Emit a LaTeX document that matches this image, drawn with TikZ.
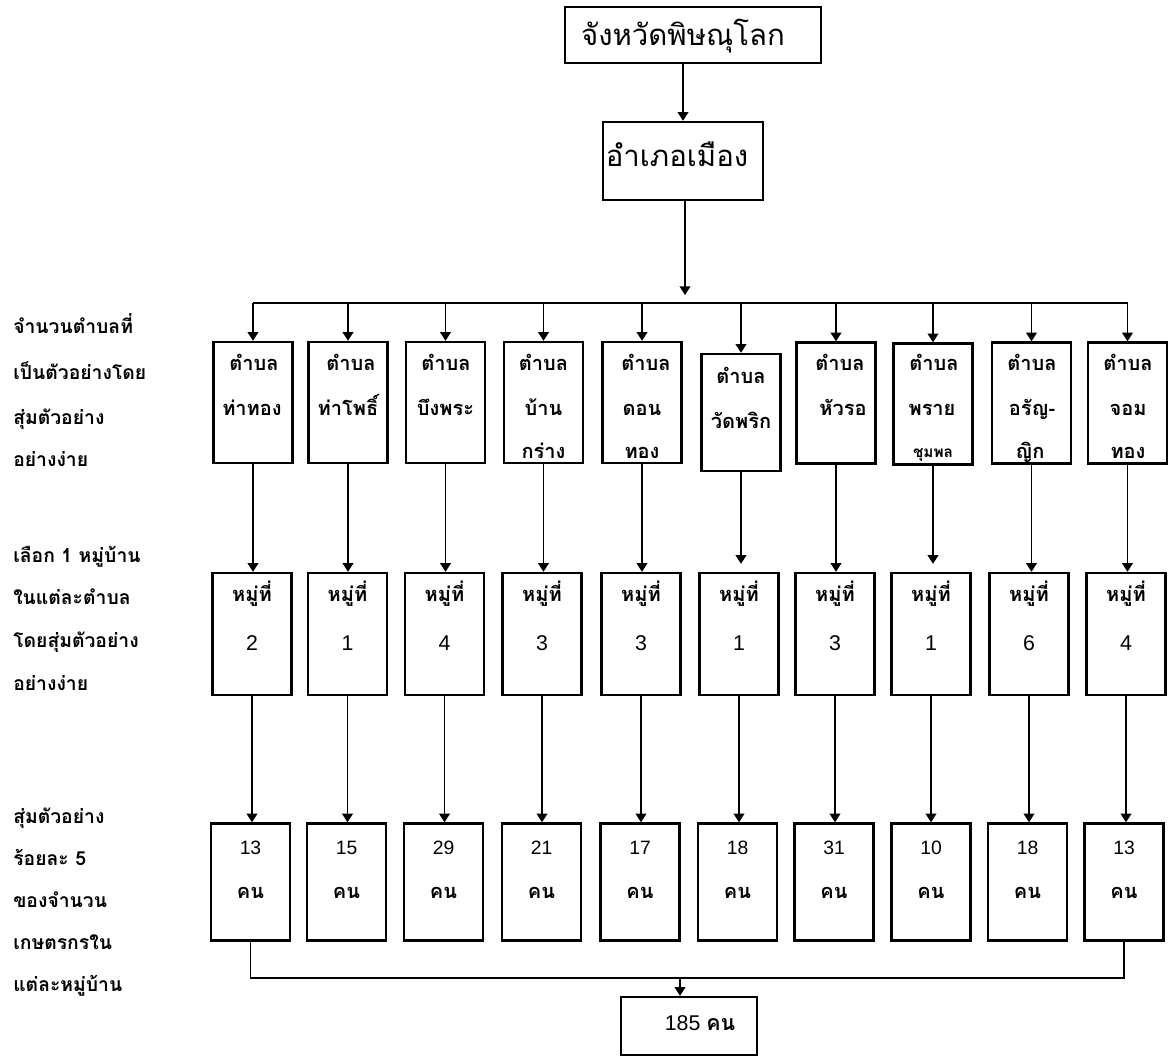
\documentclass[tikz,border=0pt]{standalone}
\usepackage{fontspec}
\setmainfont{Liberation Sans}
\newfontfamily\thai[Script=Thai]{Loma}
\usetikzlibrary{arrows.meta}
\begin{document}
\begin{tikzpicture}[x=0.75pt,y=-0.75pt,
  box/.style={draw, line width=1.8pt, inner sep=0pt, minimum width=59.25pt},
  conn/.style={line width=1.2pt},
  arr/.style={line width=1.2pt, -{Triangle[width=8pt,length=6.5pt]}},
  lbl/.style={font=\thai\bfseries\fontsize{14.5}{16}\selectfont, anchor=mid west, inner sep=0pt},
  thtxt/.style={font=\thai\bfseries\fontsize{15}{17}\selectfont, anchor=mid, inner sep=0pt},
  thsmall/.style={font=\thai\bfseries\fontsize{11.5}{13}\selectfont, anchor=mid, inner sep=0pt},
  numtxt/.style={font=\fontsize{16}{18}\selectfont, anchor=center, inner sep=0pt},
  numsm/.style={font=\fontsize{14.5}{17}\selectfont, anchor=center, inner sep=0pt},
  bigtxt/.style={font=\thai\fontsize{22}{26}\selectfont, anchor=mid, inner sep=0pt},
]
\useasboundingbox (0,0) rectangle (1174,1057);

% top boxes
\node[box, minimum width=192pt, minimum height=42pt] (prov) at (693,35) {};
\node[bigtxt] (provt) at (683,42) {จังหวัดพิษณุโลก};
\node[box, minimum width=120pt, minimum height=58.5pt] (amphoe) at (683,161) {};
\node[bigtxt] (amphoet) at (677,163) {อำเภอเมือง};
\draw[arr] (amphoe.north |- prov.south) -- (amphoe.north);

% row 1 boxes
\foreach \i/\cx/\cy/\h in {1/253/402.5/90.75, 2/348/402.5/90.75, 3/445.5/402.5/90.75,
  4/543.5/402.5/90.75, 5/642/402.5/90.75, 6/741/412.5/87.75, 7/836/403/90.75,
  8/933/404/90.75, 9/1031.5/403/90.75, 10/1127.5/403/90.75} {
  \node[box, minimum height=\h pt] (t\i) at (\cx,\cy) {};
}
% row 1 texts
\node[thtxt] (t1a) at (254,367) {ตำบล};
\node[thtxt] (t1b) at (252,412) {ท่าทอง};
\node[thtxt] (t2a) at (351,367) {ตำบล};
\node[thtxt] (t2b) at (348,412) {ท่าโพธิ์};
\node[thtxt] (t3a) at (446,367) {ตำบล};
\node[thtxt] (t3b) at (445.5,412) {บึงพระ};
\node[thtxt] (t4a) at (543.5,367) {ตำบล};
\node[thtxt] (t4b) at (543.5,412) {บ้าน};
\node[thtxt] (t4c) at (543.5,455) {กร่าง};
\node[thtxt] (t5a) at (646,367) {ตำบล};
\node[thtxt] (t5b) at (642,412) {ดอน};
\node[thtxt] (t5c) at (642,455) {ทอง};
\node[thtxt] (t6a) at (741,380) {ตำบล};
\node[thtxt] (t6b) at (741,425) {วัดพริก};
\node[thtxt] (t7a) at (840,367) {ตำบล};
\node[thtxt] (t7b) at (843,412) {หัวรอ};
\node[thtxt] (t8a) at (934,367) {ตำบล};
\node[thtxt] (t8b) at (932,412) {พราย};
\node[thsmall] (t8c) at (933,454) {ชุมพล};
\node[thtxt] (t9a) at (1032,367) {ตำบล};
\node[thtxt] (t9b) at (1032,412) {อรัญ-};
\node[thtxt] (t9c) at (1030,455) {ญิก};
\node[thtxt] (t10a) at (1128,367) {ตำบล};
\node[thtxt] (t10b) at (1128,412) {จอม};
\node[thtxt] (t10c) at (1128,455) {ทอง};

% row 2
\foreach \i/\cx/\n in {1/252/2, 2/347.5/1, 3/444.5/4, 4/542/3, 5/641/3,
  6/739/1, 7/835/3, 8/931/1, 9/1029/6, 10/1126/4} {
  \node[box, minimum height=91.5pt] (h\i) at (\cx,634) {};
  \node[thtxt] (hl\i) at (\cx,598) {หมู่ที่};
  \node[numtxt] (hn\i) at (\cx,643) {\n};
}

% row 3
\foreach \i/\cx/\n in {1/250.5/13, 2/346.5/15, 3/443.5/29, 4/541.5/21, 5/640/17,
  6/737.5/18, 7/834/31, 8/931/10, 9/1027.5/18, 10/1124/13} {
  \node[box, minimum height=87.75pt] (p\i) at (\cx,882) {};
  \node[numsm] (pn\i) at (\cx,848) {\n};
  \node[thtxt] (pk\i) at (\cx,895) {คน};
}

% total
\node[box, minimum width=102pt, minimum height=43.5pt] (total) at (689,1026) {};
\node[numtxt] (totalt) at (700,1023) {185 {\thai\bfseries คน}};

% top bus
\coordinate (busM) at (685,303);
\draw[conn] (t1.north |- busM) -- (t10.north |- busM);
\draw[arr, shorten >=6pt] (amphoe.south -| busM) -- (busM);
\foreach \i in {1,...,10} {
  \draw[arr] (t\i.north |- busM) -- (t\i.north);
}
% row1 -> row2
\foreach \i in {1,2,3,4,5,7,9,10} {
  \draw[arr] (t\i.south) -- (t\i.south |- h\i.north);
}
\foreach \i in {6,8} {
  \draw[arr, shorten >=6pt] (t\i.south) -- (t\i.south |- h\i.north);
}
% row2 -> row3
\foreach \i in {1,...,10} {
  \draw[arr] (h\i.south) -- (h\i.south |- p\i.north);
}
% bottom bus
\coordinate (busB) at (680,978);
\draw[conn] (p1.south) |- (busB) -| (p10.south);
\draw[arr] (busB) -- (busB |- total.north);

% left labels
\node[lbl] (l1a) at (13,330) {จำนวนตำบลที่};
\node[lbl] (l1b) at (13,376) {เป็นตัวอย่างโดย};
\node[lbl] (l1c) at (13,421) {สุ่มตัวอย่าง};
\node[lbl] (l1d) at (13,463) {อย่างง่าย};
\node[lbl] (l2a) at (13,559) {เลือก 1 หมู่บ้าน};
\node[lbl] (l2b) at (13,601) {ในแต่ละตำบล};
\node[lbl] (l2c) at (13,644) {โดยสุ่มตัวอย่าง};
\node[lbl] (l2d) at (13,687) {อย่างง่าย};
\node[lbl] (l3a) at (13,820) {สุ่มตัวอย่าง};
\node[lbl] (l3b) at (13,862) {ร้อยละ 5};
\node[lbl] (l3c) at (13,904) {ของจำนวน};
\node[lbl] (l3d) at (13,946) {เกษตรกรใน};
\node[lbl] (l3e) at (13,988) {แต่ละหมู่บ้าน};
\end{tikzpicture}
\end{document}
